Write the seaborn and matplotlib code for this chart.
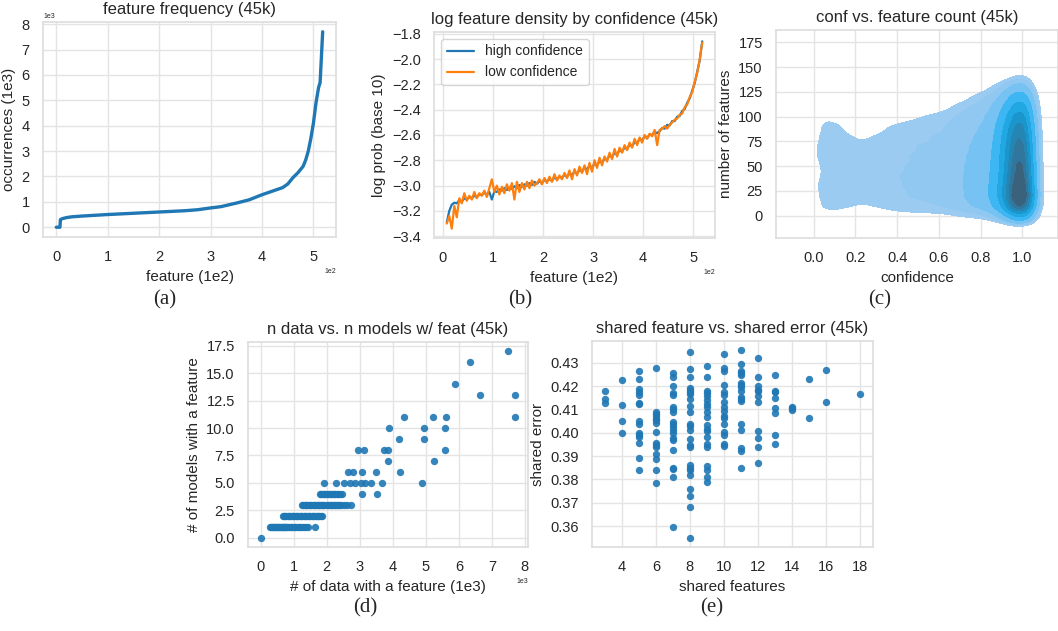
import numpy as np
import pandas as pd
import seaborn as sns
import matplotlib.pyplot as plt
from matplotlib.ticker import MultipleLocator

# (a) sorted feature frequency
freq_feature = [0, 7, 8, 12, 20, 30, 50, 100, 150, 200, 250, 275, 300, 320, 350, 375,
                390, 400, 420, 440, 450, 460, 470, 480, 485, 490, 495, 500, 505, 510,
                513, 515, 517, 518]
freq_count = [0, 0, 300, 340, 380, 410, 440, 500, 550, 600, 650, 690, 760, 810, 950, 1080,
              1200, 1280, 1420, 1560, 1700, 1950, 2150, 2400, 2650, 3000, 3500, 4100, 4900, 5500,
              5700, 6500, 7300, 7700]

# (b) log feature density, features 8..518 every 5
conf_feature = list(range(8, 519, 5))
log_prob_high = [
    -3.29, -3.20, -3.15, -3.135, -3.14, -3.115, -3.125, -3.10, -3.11, -3.09,
    -3.10, -3.08, -3.09, -3.07, -3.075, -3.055, -3.07, -3.05, -3.11, -3.045,
    -3.05, -3.03, -3.04, -3.02, -3.035, -3.015, -3.025, -3.005, -3.02, -2.995,
    -3.01, -2.99, -3.00, -2.98, -2.995, -2.97, -2.985, -2.965, -2.98, -2.955,
    -2.965, -2.95, -2.96, -2.935, -2.95, -2.93, -2.94, -2.915, -2.93, -2.905,
    -2.915, -2.89, -2.905, -2.875, -2.89, -2.86, -2.87, -2.845, -2.86, -2.825,
    -2.84, -2.805, -2.82, -2.785, -2.795, -2.76, -2.775, -2.74, -2.755, -2.72,
    -2.73, -2.70, -2.71, -2.675, -2.69, -2.655, -2.665, -2.63, -2.645, -2.61,
    -2.625, -2.595, -2.60, -2.575, -2.585, -2.57, -2.545, -2.55, -2.52, -2.525,
    -2.49, -2.49, -2.455, -2.45, -2.41, -2.395, -2.345, -2.31, -2.25, -2.19,
    -2.10, -2.01, -1.86]
log_prob_low = [
    -3.30, -3.24, -3.34, -3.16, -3.25, -3.10, -3.14, -3.06, -3.12, -3.08,
    -3.11, -3.05, -3.10, -3.06, -3.08, -3.04, -3.09, -3.02, -2.95, -3.05,
    -3.00, -3.07, -3.01, -3.06, -2.99, -3.04, -2.98, -3.11, -2.97, -3.05,
    -2.98, -3.03, -2.97, -3.02, -2.96, -3.00, -2.98, -2.95, -2.99, -2.94,
    -2.98, -2.93, -2.97, -2.91, -2.96, -2.92, -2.95, -2.90, -2.94, -2.88,
    -2.95, -2.87, -2.92, -2.85, -2.90, -2.84, -2.91, -2.82, -2.89, -2.80,
    -2.86, -2.78, -2.84, -2.77, -2.81, -2.74, -2.79, -2.71, -2.77, -2.70,
    -2.74, -2.68, -2.72, -2.66, -2.70, -2.63, -2.68, -2.62, -2.66, -2.60,
    -2.63, -2.59, -2.61, -2.56, -2.68, -2.56, -2.55, -2.53, -2.55, -2.52,
    -2.50, -2.48, -2.47, -2.44, -2.43, -2.38, -2.36, -2.30, -2.26, -2.18,
    -2.11, -2.00, -1.87]

# (c) confidence vs feature count: weights read on a grid
kde_conf = [0.0, 0.05, 0.1, 0.15, 0.2, 0.25, 0.3, 0.35, 0.4, 0.45, 0.5,
            0.55, 0.6, 0.65, 0.7, 0.75, 0.8, 0.85, 0.9, 0.95, 1.0]
kde_count = [0, 10, 20, 30, 40, 50, 60, 70, 80, 90, 100, 110, 120, 130, 140]
kde_weight = [  # one row per confidence value, entries over feature count
    [1.4, 2.0, 2.1, 2.3, 2.1, 2.1, 2.4, 2.4, 2.2, 2.1, 1.9, 0.6, 0, 0, 0],
    [2.2, 3.2, 3.4, 3.7, 3.2, 3.2, 3.7, 3.7, 3.3, 3.1, 2.7, 0.9, 0, 0, 0],
    [2.2, 3.0, 3.1, 3.3, 3.0, 3.0, 3.3, 3.3, 3.1, 2.9, 2.5, 0.8, 0, 0, 0],
    [2.1, 2.8, 2.9, 3.0, 2.9, 2.9, 3.0, 3.0, 2.8, 2.6, 1.8, 0.4, 0, 0, 0],
    [2.0, 2.6, 2.8, 2.9, 2.9, 2.9, 2.9, 2.8, 2.5, 1.9, 0.6, 0, 0, 0, 0],
    [2.0, 2.6, 2.8, 2.9, 2.9, 2.9, 2.9, 2.8, 2.6, 2.1, 0.8, 0.05, 0, 0, 0],
    [2.0, 2.7, 2.9, 2.9, 2.9, 2.9, 2.9, 2.8, 2.6, 2.2, 1.0, 0.1, 0, 0, 0],
    [2.0, 2.9, 3.3, 3.4, 3.6, 3.4, 3.3, 3.2, 3.0, 2.5, 1.2, 0.1, 0, 0, 0],
    [2.0, 3.4, 3.9, 4.1, 4.3, 4.1, 4.0, 3.9, 3.6, 3.1, 1.6, 0.2, 0, 0, 0],
    [2.0, 3.8, 4.3, 4.5, 4.5, 4.3, 4.2, 4.1, 3.9, 3.4, 2.0, 0.3, 0, 0, 0],
    [2.0, 4.0, 4.5, 4.6, 4.6, 4.5, 4.4, 4.3, 4.0, 3.6, 2.5, 0.5, 0.05, 0, 0],
    [2.1, 4.1, 4.6, 4.8, 4.8, 4.7, 4.5, 4.4, 4.2, 3.8, 3.0, 0.8, 0.1, 0, 0],
    [2.1, 4.3, 4.8, 4.9, 4.9, 4.8, 4.7, 4.5, 4.3, 3.9, 3.5, 1.4, 0.3, 0, 0],
    [2.3, 4.7, 5.2, 5.4, 5.4, 5.3, 5.1, 5.0, 4.7, 4.4, 3.9, 2.3, 0.6, 0, 0],
    [2.7, 6.0, 6.7, 6.8, 6.8, 6.7, 6.6, 6.3, 5.8, 5.4, 4.7, 3.5, 1.3, 0.2, 0],
    [3.1, 7.3, 8.2, 8.2, 8.2, 8.0, 7.6, 7.3, 6.8, 6.2, 5.4, 4.4, 2.4, 0.7, 0],
    [3.4, 8.6, 9.7, 9.7, 9.5, 9.2, 8.9, 8.4, 7.8, 7.0, 6.2, 5.2, 3.6, 1.4, 0.2],
    [4.2, 11, 13, 13, 12.5, 12, 11.5, 10.8, 10, 9, 7.6, 6.2, 4.5, 2.2, 0.5],
    [8, 21, 26, 25, 24, 23, 22, 21, 19.5, 17, 14, 11, 7.5, 4.2, 1],
    [18, 48, 62, 58, 54, 52, 50, 47, 44, 39, 32, 23, 14, 7, 2],
    [42, 108, 132, 120, 110, 104, 98, 91, 83, 73, 61, 46, 30, 14, 4.5],
]

# (d) n data vs n models
n_data = [0,
          270, 300, 330, 360, 390, 420, 450, 480, 510, 540, 570, 600, 630, 660, 690, 720,
          750, 780, 810, 840, 880, 920, 960, 1000, 1050, 1100, 1150, 1200, 1260, 1320,
          1380, 1430, 1640,
          670, 700, 740, 780, 820, 860, 900, 940, 980, 1020, 1060, 1100, 1140, 1180, 1220,
          1260, 1300, 1340, 1380, 1420, 1460, 1500, 1540, 1580, 1620, 1660, 1700, 1740,
          1780, 1820, 1870,
          1250, 1290, 1330, 1370, 1410, 1450, 1490, 1530, 1570, 1610, 1650, 1690, 1730,
          1770, 1810, 1850, 1900, 1930, 2010, 2050, 2090, 2130, 2170, 2210, 2250, 2290,
          2330, 2380, 2430, 2510, 2620, 2730,
          1800, 1840, 1880, 1920, 1960, 2000, 2050, 2100, 2140, 2180, 2220, 2260, 2300,
          2350, 2400, 2450, 3060, 3530,
          1930, 2290, 2510, 2700, 2870, 3030, 3150, 3350, 3670, 4870,
          2640, 2790, 3060, 3500, 4230,
          3870, 5250,
          2960, 3120, 3720, 3860, 5580,
          4190, 4940,
          3890, 4940, 5580,
          4350, 5230, 5600, 7700,
          6650, 7710,
          5870,
          6340,
          7490]
n_models = ([0] + [1] * 33 + [2] * 31 + [3] * 32 + [4] * 18 + [5] * 10 + [6] * 5 + [7] * 2
            + [8] * 5 + [9] * 2 + [10] * 3 + [11] * 4 + [13] * 2 + [14] + [16] + [17])

# (e) shared features vs shared error
shared_feat = ([3] * 3 + [4] * 4 + [5] * 15 + [6] * 15 + [7] * 20 + [8] * 24 + [9] * 20
               + [10] * 16 + [11] * 17 + [12] * 11 + [13] * 8 + [14] * 3 + [15] * 2 + [16] * 2 + [18])
shared_err = [
    0.4177, 0.4143, 0.4126,
    0.4226, 0.4120, 0.4049, 0.4000,
    0.4263, 0.4229, 0.4186, 0.4174, 0.4163, 0.4126, 0.4123, 0.4049, 0.4039, 0.4000,
    0.3991, 0.3983, 0.3956, 0.3891, 0.3840,
    0.4277, 0.4089, 0.4079, 0.4070, 0.4061, 0.4053, 0.4044, 0.4004, 0.3956, 0.3947,
    0.3941, 0.3910, 0.3887, 0.3841, 0.3786,
    0.4257, 0.4237, 0.4200, 0.4171, 0.4160, 0.4109, 0.4100, 0.4089, 0.4046, 0.4036,
    0.4026, 0.4013, 0.4001, 0.3977, 0.3967, 0.3926, 0.3851, 0.3846, 0.3810, 0.3597,
    0.4344, 0.4274, 0.4241, 0.4191, 0.4184, 0.4174, 0.4167, 0.4144, 0.4116, 0.4091,
    0.4037, 0.4027, 0.4014, 0.3974, 0.3949, 0.3941, 0.3860, 0.3850, 0.3839, 0.3819,
    0.3761, 0.3731, 0.3683, 0.3551,
    0.4284, 0.4237, 0.4181, 0.4170, 0.4159, 0.4141, 0.4124, 0.4110, 0.4090, 0.4069,
    0.4033, 0.4017, 0.4007, 0.3983, 0.3950, 0.3941, 0.3856, 0.3841, 0.3810, 0.3791,
    0.4339, 0.4279, 0.4264, 0.4203, 0.4174, 0.4160, 0.4130, 0.4110, 0.4093, 0.4074,
    0.4063, 0.4039, 0.4003, 0.3989, 0.3953, 0.3944,
    0.4353, 0.4296, 0.4264, 0.4254, 0.4246, 0.4213, 0.4204, 0.4196, 0.4179, 0.4153,
    0.4144, 0.4136, 0.4039, 0.4010, 0.3936, 0.3924, 0.3849,
    0.4321, 0.4240, 0.4201, 0.4184, 0.4179, 0.4159, 0.4130, 0.4009, 0.3979, 0.3940, 0.3870,
    0.4249, 0.4179, 0.4174, 0.4150, 0.4107, 0.4083, 0.3991, 0.3953,
    0.4111, 0.4106, 0.4099,
    0.4229, 0.4064,
    0.4270, 0.4134,
    0.4164]

sns.set_theme(style="whitegrid", palette="tab10",
              rc={"grid.color": "#e4e4e4", "axes.edgecolor": "#dedede"})
plt.rcParams['font.family'] = ['Liberation Sans', 'DejaVu Sans']

TITLE, LABEL, TICK = 12, 11, 10.5
W, H = 1058, 631


def place(fig, left, top, right, bottom):
    return fig.add_axes([left / W, 1 - bottom / H, (right - left) / W, (bottom - top) / H])


def style(ax, title, xlabel, ylabel):
    ax.set_title(title, fontsize=TITLE)
    ax.set_xlabel(xlabel, fontsize=LABEL)
    ax.set_ylabel(ylabel, fontsize=LABEL)
    ax.tick_params(labelsize=TICK)
    ax.xaxis.get_offset_text().set_fontsize(5)
    ax.yaxis.get_offset_text().set_fontsize(5)


fig = plt.figure(figsize=(W / 100, H / 100), dpi=100)

# (a)
ax = place(fig, 43, 22, 336, 237)
sns.lineplot(x=freq_feature, y=freq_count, ax=ax, color='C0', lw=2.4)
ax.xaxis.set_major_locator(MultipleLocator(100))
ax.yaxis.set_major_locator(MultipleLocator(1000))
ax.ticklabel_format(style='sci', scilimits=(0, 0), axis='both')
style(ax, 'feature frequency (45k)', 'feature (1e2)', 'occurrences (1e3)')

# (b)
ax = place(fig, 434, 32, 715, 238)
sns.lineplot(x=conf_feature, y=log_prob_high, ax=ax, color='C0', lw=1.6, label='high confidence')
sns.lineplot(x=conf_feature, y=log_prob_low, ax=ax, color='C1', lw=1.6, label='low confidence')
ax.xaxis.set_major_locator(MultipleLocator(100))
ax.yaxis.set_major_locator(MultipleLocator(0.2))
ax.ticklabel_format(style='sci', scilimits=(0, 0), axis='x')
ax.legend(loc='upper left', fontsize=10)
style(ax, 'log feature density by confidence (45k)', 'feature (1e2)', 'log prob (base 10)')

# (c)
ax = place(fig, 776, 30, 1058, 238)
cc, ff = np.meshgrid(kde_conf, kde_count, indexing='ij')
ww = np.array(kde_weight, dtype=float)
keep = ww.ravel() > 0
sns.kdeplot(x=cc.ravel()[keep], y=ff.ravel()[keep], weights=ww.ravel()[keep],
            fill=True, bw_method=0.16, levels=10, thresh=0.05, color='#1ba3dd', ax=ax)
ax.set_xlim(-0.18, 1.17)
ax.set_ylim(-22.5, 187.5)
ax.set_xticks([0.0, 0.2, 0.4, 0.6, 0.8, 1.0])
ax.set_yticks([0, 25, 50, 75, 100, 125, 150, 175])
style(ax, 'conf vs. feature count (45k)', 'confidence', 'number of features')

# (d)
ax = place(fig, 248, 342, 528, 547)
sns.scatterplot(x=n_data, y=n_models, ax=ax, color='C0', s=28, linewidth=0, alpha=0.9)
ax.xaxis.set_major_locator(MultipleLocator(1000))
ax.yaxis.set_major_locator(MultipleLocator(2.5))
ax.ticklabel_format(style='sci', scilimits=(0, 0), axis='x')
style(ax, 'n data vs. n models w/ feat (45k)', '# of data with a feature (1e3)',
      '# of models with a feature')

# (e)
ax = place(fig, 592, 341, 873, 547)
sns.scatterplot(x=shared_feat, y=shared_err, ax=ax, color='C0', s=28, linewidth=0, alpha=0.9)
ax.set_xticks([4, 6, 8, 10, 12, 14, 16, 18])
ax.yaxis.set_major_locator(MultipleLocator(0.01))
style(ax, 'shared feature vs. shared error (45k)', 'shared features', 'shared error')

for lab, x, y in [('(a)', 165, 300), ('(b)', 520, 300), ('(c)', 880, 300),
                  ('(d)', 365, 608), ('(e)', 712, 608)]:
    fig.text(x / W, 1 - y / H, lab, ha='center', va='center',
             family='Liberation Serif', fontsize=15)

fig.savefig('out.png', dpi=100)
